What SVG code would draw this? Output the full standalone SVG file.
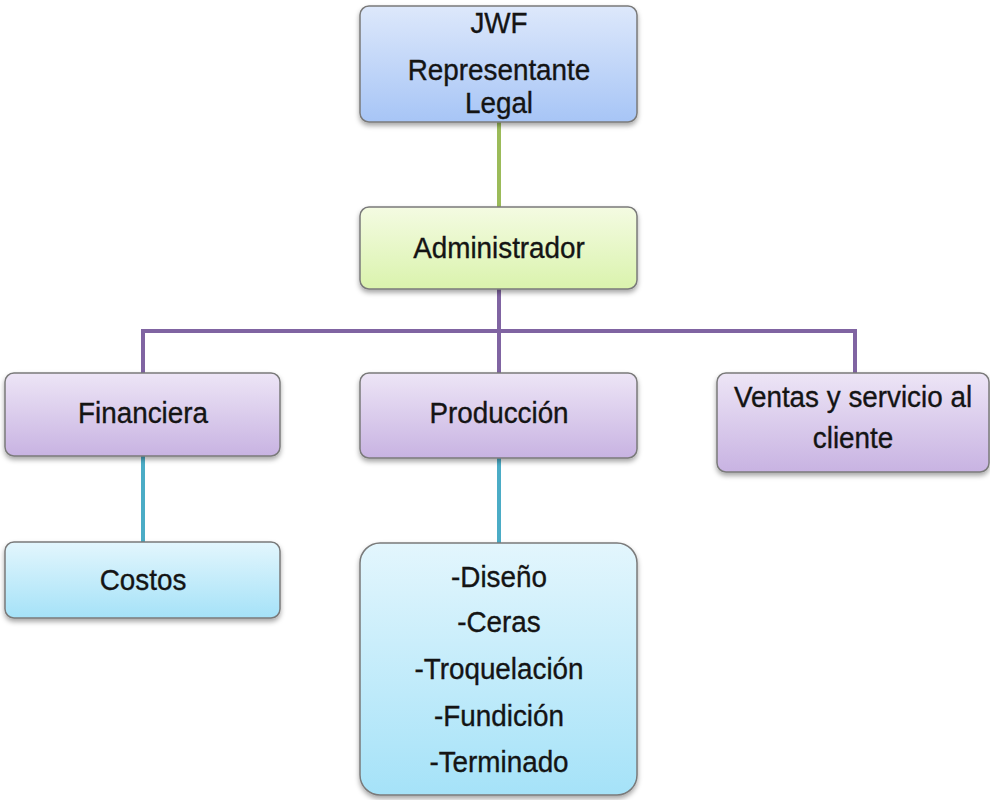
<svg xmlns="http://www.w3.org/2000/svg" width="990" height="800" viewBox="0 0 990 800">
  <style>
    .box { stroke: #7a7a7a; stroke-width: 1.5; filter: url(#shadow); }
    .lbl { font-family: "Liberation Sans", Arial, sans-serif; font-size: 29px; fill: #141414; stroke: #141414; stroke-width: 0.35; text-anchor: middle; }
    .wire { fill: none; stroke-width: 4; }
  </style>
  <defs>
    <linearGradient id="gBlue" x1="0" y1="0" x2="0" y2="1">
      <stop offset="0" stop-color="#dde8fb"/>
      <stop offset="1" stop-color="#a7c5f6"/>
    </linearGradient>
    <linearGradient id="gGreen" x1="0" y1="0" x2="0" y2="1">
      <stop offset="0" stop-color="#f4fbe2"/>
      <stop offset="1" stop-color="#daf3ad"/>
    </linearGradient>
    <linearGradient id="gPurple" x1="0" y1="0" x2="0" y2="1">
      <stop offset="0" stop-color="#ede5f6"/>
      <stop offset="1" stop-color="#c8b3e2"/>
    </linearGradient>
    <linearGradient id="gCyan" x1="0" y1="0" x2="0" y2="1">
      <stop offset="0" stop-color="#e3f6fd"/>
      <stop offset="1" stop-color="#a5e2f8"/>
    </linearGradient>
    <filter id="shadow" x="-10%" y="-10%" width="120%" height="130%">
      <feDropShadow dx="0" dy="3" stdDeviation="2.5" flood-color="#000" flood-opacity="0.35"/>
    </filter>
  </defs>

  <!-- connectors -->
  <g id="connectors">
    <line class="wire" x1="499" y1="122" x2="499" y2="207" stroke="#9bbb59"/>
    <path class="wire" d="M499 289 V331 M143 373 V331 H855 V373 M499 331 V373" stroke="#8064a2"/>
    <line class="wire" x1="143" y1="456" x2="143" y2="542" stroke="#4bacc6"/>
    <line class="wire" x1="499" y1="458" x2="499" y2="543" stroke="#4bacc6"/>
  </g>

  <!-- labels are set slightly narrow: each line is placed at its centre and squeezed horizontally -->
  <g id="jwf">
    <rect class="box" x="360" y="6" width="277" height="116" rx="9" fill="url(#gBlue)"/>
    <text class="lbl" transform="translate(499 33) scale(0.96 1)">JWF</text>
    <text class="lbl" transform="translate(499 80) scale(0.96 1)">Representante</text>
    <text class="lbl" transform="translate(499 113) scale(0.96 1)">Legal</text>
  </g>

  <g id="administrador">
    <rect class="box" x="360" y="207" width="277" height="82" rx="9" fill="url(#gGreen)"/>
    <text class="lbl" transform="translate(499 258) scale(0.96 1)">Administrador</text>
  </g>

  <g id="financiera">
    <rect class="box" x="5" y="373" width="275" height="83" rx="9" fill="url(#gPurple)"/>
    <text class="lbl" transform="translate(143 423) scale(0.96 1)">Financiera</text>
  </g>

  <g id="produccion">
    <rect class="box" x="360" y="373" width="277" height="85" rx="9" fill="url(#gPurple)"/>
    <text class="lbl" transform="translate(499 423) scale(0.96 1)">Producción</text>
  </g>

  <g id="ventas">
    <rect class="box" x="717" y="373" width="272" height="99" rx="9" fill="url(#gPurple)"/>
    <text class="lbl" transform="translate(853 407) scale(0.96 1)">Ventas y servicio al</text>
    <text class="lbl" transform="translate(853 448) scale(0.96 1)">cliente</text>
  </g>

  <g id="costos">
    <rect class="box" x="5" y="542" width="275" height="76" rx="9" fill="url(#gCyan)"/>
    <text class="lbl" transform="translate(143 590) scale(0.96 1)">Costos</text>
  </g>

  <g id="procesos">
    <rect class="box" x="360" y="543" width="277" height="252" rx="20" fill="url(#gCyan)"/>
    <text class="lbl" transform="translate(499 587) scale(0.96 1)">-Diseño</text>
    <text class="lbl" transform="translate(499 632) scale(0.96 1)">-Ceras</text>
    <text class="lbl" transform="translate(499 679) scale(0.96 1)">-Troquelación</text>
    <text class="lbl" transform="translate(499 726) scale(0.96 1)">-Fundición</text>
    <text class="lbl" transform="translate(499 772) scale(0.96 1)">-Terminado</text>
  </g>
</svg>
